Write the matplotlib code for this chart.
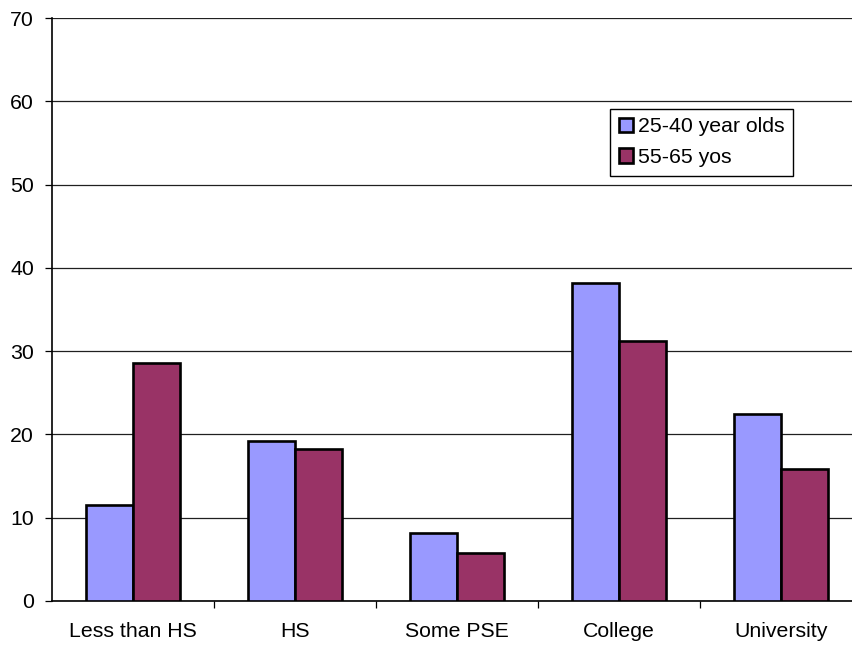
import numpy as np
import matplotlib
matplotlib.use("Agg")
import matplotlib.pyplot as plt

plt.rcParams['font.family'] = ['Liberation Sans', 'DejaVu Sans']

# data
categories = ["Less than HS", "HS", "Some PSE", "College", "University"]
young = [11.5, 19.2, 8.2, 38.2, 22.4]
older = [28.6, 18.2, 5.8, 31.2, 15.8]
series_names = ["25-40 year olds", "55-65 yos"]

fig = plt.figure(figsize=(8.52, 6.48), dpi=100)
ax = fig.add_axes([52 / 852, 1 - 601 / 648, 810 / 852, 583 / 648])

x = np.arange(len(categories))
w = 0.288
ax.bar(x - w / 2, young, w, color="#9999FF", edgecolor="black", linewidth=1.9,
       label=series_names[0], zorder=3)
ax.bar(x + w / 2, older, w, color="#993366", edgecolor="black", linewidth=1.9,
       label=series_names[1], zorder=3)

ax.set_xlim(-0.5, len(categories) - 0.5)
ax.set_ylim(0, 70)
ax.set_yticks(range(0, 71, 10))
ax.yaxis.grid(True, color="#202020", linewidth=0.9, zorder=0)
ax.tick_params(axis="y", direction="out", length=5, width=0.9, pad=8, labelsize=15.3)

# tick marks between groups, labels under group centres
ax.set_xticks(np.arange(0.5, len(categories) - 1, 1.0))
ax.set_xticklabels([])
ax.tick_params(axis="x", which="major", direction="out", length=5, width=0.9)
ax.set_xticks(x, minor=True)
ax.set_xticklabels(categories, minor=True)
ax.tick_params(axis="x", which="minor", length=0, pad=15, labelsize=15.3)

for s in ["top", "right"]:
    ax.spines[s].set_visible(False)
ax.spines["left"].set_linewidth(1.2)
ax.spines["bottom"].set_linewidth(1.2)

leg = ax.legend(loc="upper left", bbox_to_anchor=(0.689, 0.844), fontsize=15.3,
                frameon=True, fancybox=False, edgecolor="black", framealpha=1,
                handlelength=0.7, handleheight=0.7, handletextpad=0.2,
                borderpad=0.4, labelspacing=0.55, borderaxespad=0)
leg.get_frame().set_linewidth(1.0)

fig.savefig("out.png", dpi=100)
